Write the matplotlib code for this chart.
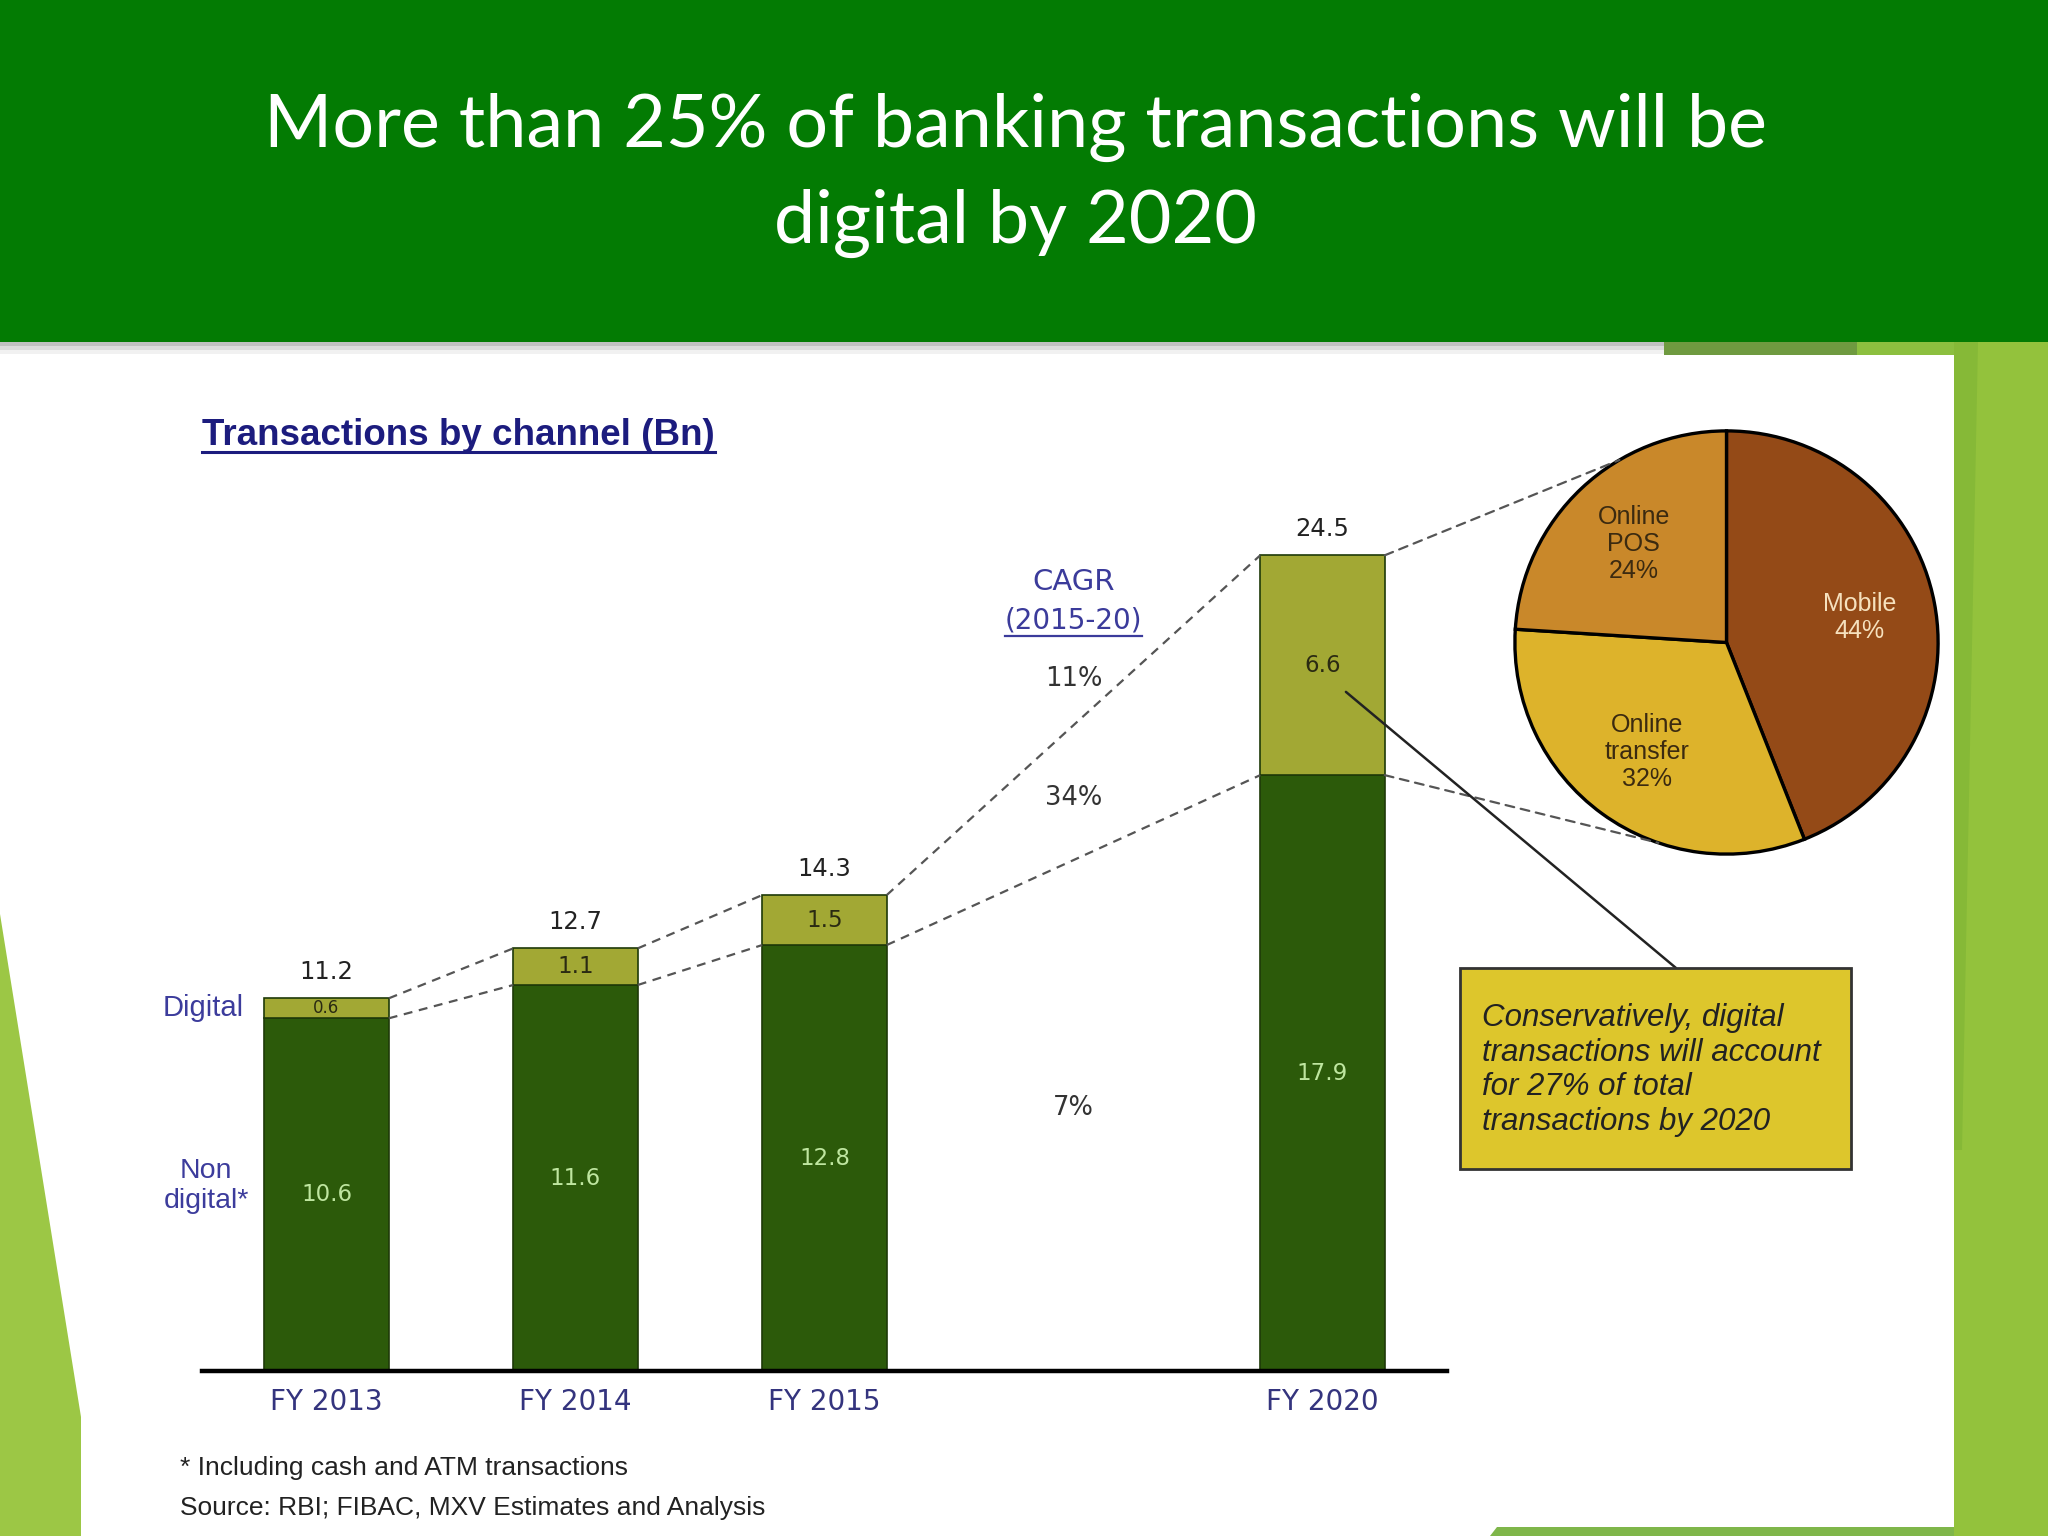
import matplotlib
matplotlib.use("Agg")
import numpy as np
import matplotlib.pyplot as plt
from matplotlib.patches import Rectangle, Polygon, ConnectionPatch
from matplotlib.lines import Line2D

plt.rcParams['font.family'] = ['Liberation Sans', 'DejaVu Sans']

# ---------------------------
# Data
# ---------------------------
years = ["FY 2013", "FY 2014", "FY 2015", "FY 2020"]
non_digital = [10.6, 11.6, 12.8, 17.9]
digital = [0.6, 1.1, 1.5, 6.6]
totals = [round(a + b, 1) for a, b in zip(non_digital, digital)]
cagr_labels = ["11%", "34%", "7%"]   # total, digital, non digital (2015-20)

pie_names = ["Mobile", "Online\ntransfer", "Online\nPOS"]
pie_shares = [44, 32, 24]

# ---------------------------
# Layout helpers (pixel coords, origin top-left)
# ---------------------------
W, H = 2048, 1536
slots = [0, 1, 2, 4]      # leave a gap before the 2020 projection
HALF = 0.25               # half bar width

def fx(px):
    return px / W

def fy(py):
    return 1 - py / H

DARK = "#2C5A0A"
OLIVE = "#A2A834"
EDGE = "#1E3A08"
NAVY = "#34347E"
DASH = (0, (4, 3))

fig = plt.figure(figsize=(W / 100, H / 100), dpi=100)
fig.patch.set_facecolor("white")

# ---------------------------
# Slide background
# ---------------------------
def bg(patch, z=-5):
    patch.set_transform(fig.transFigure)
    patch.set_zorder(z)
    fig.add_artist(patch)

for i, a in enumerate([0.45, 0.25, 0.1]):
    bg(Rectangle((0, fy(342 + 4 * (i + 1))), 1, 4 / H, color="#777777", alpha=a, lw=0))
bg(Rectangle((0, fy(342)), 1, 342 / H, color="#037B03", lw=0))
bg(Rectangle((fx(1664), fy(355)), fx(1954 - 1664), 13 / H, color="#6F9A40", lw=0))
bg(Rectangle((fx(1857), fy(355)), fx(1954 - 1857), 13 / H, color="#8CBF3F", lw=0))
bg(Rectangle((fx(1954), 0), 1 - fx(1954), fy(342), color="#93C23C", lw=0))
bg(Polygon([(fx(1954), fy(342)), (fx(1978), fy(342)), (fx(1962), fy(1150)), (fx(1954), fy(1150))],
           closed=True, color="#86B937", lw=0), z=-4)
bg(Polygon([(0, fy(914)), (fx(81), fy(1417)), (fx(81), 0), (0, 0)], closed=True, color="#9CC745", lw=0))
bg(Polygon([(fx(1490), 0), (fx(1497), fy(1527)), (fx(1954), fy(1527)), (fx(1954), 0)],
           closed=True, color="#7FB64A", lw=0))

# header title, sized to the slide width of the first line
h1 = fig.text(fx(1015), fy(147), "More than 25% of banking transactions will be",
              ha="center", va="baseline", color="white", family="Lato", fontsize=50)
h2 = fig.text(fx(1015), fy(243), "digital by 2020",
              ha="center", va="baseline", color="white", family="Lato", fontsize=50)
renderer = fig.canvas.get_renderer()
w = h1.get_window_extent(renderer).width
for t in (h1, h2):
    t.set_fontsize(50 * 1501 / w)

# ---------------------------
# Bar chart
# ---------------------------
ax = fig.add_axes([fx(202), fy(1371.4), (1447 - 202) / W, 30 * 33.31 / H])
ax.set_facecolor("none")
bottom = ax.bar(slots, non_digital, width=2 * HALF, color=DARK, edgecolor=EDGE, linewidth=1.2)
top = ax.bar(slots, digital, width=2 * HALF, bottom=non_digital, color=OLIVE,
             edgecolor=EDGE, linewidth=1.2)
ax.set_xlim(-0.5, 4.5)
ax.set_ylim(0, 30)

ax.bar_label(top, labels=[f"{t:.1f}" for t in totals], padding=10, fontsize=17.5,
             color="#222222", family="DejaVu Sans")
ax.bar_label(bottom, labels=[f"{v:.1f}" for v in non_digital], label_type="center",
             fontsize=16.5, color="#BFE6A0", family="DejaVu Sans")
dig_lbls = ax.bar_label(top, labels=[f"{v:.1f}" for v in digital], label_type="center",
                        fontsize=16.5, color="#2A2A12", family="DejaVu Sans")
dig_lbls[0].set_fontsize(12)

# dashed connectors between bars
for i in range(len(slots) - 1):
    xs = [slots[i] + HALF, slots[i + 1] - HALF]
    ax.plot(xs, [totals[i], totals[i + 1]], ls=DASH, color="#555555", lw=1.6)
    ax.plot(xs, [non_digital[i], non_digital[i + 1]], ls=DASH, color="#555555", lw=1.6)

ax.set_xticks(slots, years)
ax.tick_params(axis="x", length=0, pad=12, labelsize=20, labelcolor=NAVY)
for lbl in ax.get_xticklabels():
    lbl.set_family("DejaVu Sans")
ax.set_yticks([])
for s in ("top", "left", "right"):
    ax.spines[s].set_visible(False)
ax.spines["bottom"].set_linewidth(3.2)
ax.spines["bottom"].set_color("black")

# CAGR annotation
ax.text(3.0, 23.45, "CAGR", ha="center", va="baseline", fontsize=21, color="#3B3B9B",
        family="DejaVu Sans")
cagr_sub = ax.text(3.0, 22.3, "(2015-20)", ha="center", va="baseline", fontsize=20,
                   color="#3B3B9B", family="DejaVu Sans")
for lbl, y in zip(cagr_labels, [20.8, 17.2, 7.9]):
    ax.text(3.0, y, lbl, ha="center", va="center", fontsize=18.5, color="#333333",
            family="DejaVu Sans")

# side labels
fig.text(fx(244), fy(1008), "Digital", ha="right", va="center", fontsize=21, color="#3C3C9C")
fig.text(fx(206), fy(1186), "Non\ndigital*", ha="center", va="center", fontsize=20.5,
         color="#3C3C9C", linespacing=1.2, multialignment="center")

# chart title
title = fig.text(fx(202), fy(445), "Transactions by channel (Bn)", ha="left", va="baseline",
                 fontsize=26.5, weight="bold", color="#1C1C7E")

# ---------------------------
# Pie of the 2020 digital split
# ---------------------------
R = 211.6 * 1.02
pax = fig.add_axes([fx(1726.5 - R), fy(642.5 + R), 2 * R / W, 2 * R / H])
pie_colors = ["#944A17", "#DDB32B", "#C9882A"]
wedges, texts = pax.pie(pie_shares, labels=[f"{n}\n{s}%" for n, s in zip(pie_names, pie_shares)],
                        startangle=90, counterclock=False, colors=pie_colors,
                        labeldistance=0.64,
                        wedgeprops=dict(edgecolor="black", linewidth=2.4),
                        textprops=dict(fontsize=18, linespacing=1.15))
pax.set_xlim(-1.02, 1.02)
pax.set_ylim(-1.02, 1.02)
pax.set_aspect("equal")
for t in texts:
    t.set_ha("center")
    t.set_va("center")
    t.set_color("#3B2A10")
texts[0].set_color("#F6E1BE")

for yv, ang in [(totals[3], 120.4), (non_digital[3], -108.8)]:
    a = np.radians(ang)
    fig.add_artist(ConnectionPatch(xyA=(slots[3] + HALF, yv), coordsA=ax.transData,
                                   xyB=(np.cos(a), np.sin(a)), coordsB=pax.transData,
                                   ls=DASH, color="#555555", lw=1.6))

# ---------------------------
# Callout
# ---------------------------
fig.add_artist(ConnectionPatch(xyA=(4.094, 20.4), coordsA=ax.transData,
                               xyB=(fx(1676), fy(968)), coordsB=fig.transFigure,
                               color="#222222", lw=1.8))
box = Rectangle((fx(1460), fy(1169)), (1851 - 1460) / W, (1169 - 968) / H,
                transform=fig.transFigure, facecolor="#DDC62C", edgecolor="#333333",
                lw=2, zorder=3)
fig.add_artist(box)
fig.text(fx(1482), fy(1070),
         "Conservatively, digital\ntransactions will account\nfor 27% of total\ntransactions by 2020",
         ha="left", va="center", fontsize=22.5, style="italic", color="#222222",
         linespacing=1.2, zorder=4)

# footnotes
fig.text(fx(180), fy(1468), "* Including cash and ATM transactions", va="center",
         fontsize=19, color="#222222")
fig.text(fx(180), fy(1508), "Source: RBI; FIBAC, MXV Estimates and Analysis", va="center",
         fontsize=19, color="#222222")

# underlines
def underline(txt, dy, color, lw):
    bb = txt.get_window_extent(fig.canvas.get_renderer())
    _, yb = fig.transFigure.transform(txt.get_position()) if txt.get_transform() == fig.transFigure \
        else txt.get_transform().transform(txt.get_position())
    inv = fig.transFigure.inverted()
    (x0, y0), (x1, _) = inv.transform([(bb.x0, yb - dy), (bb.x1, yb - dy)])
    fig.add_artist(Line2D([x0, x1], [y0, y0], transform=fig.transFigure, color=color, lw=lw))

underline(title, 7, "#1C1C7E", 2.2)
underline(cagr_sub, 7, "#3B3B9B", 1.6)

fig.savefig("out.png", dpi=100)
